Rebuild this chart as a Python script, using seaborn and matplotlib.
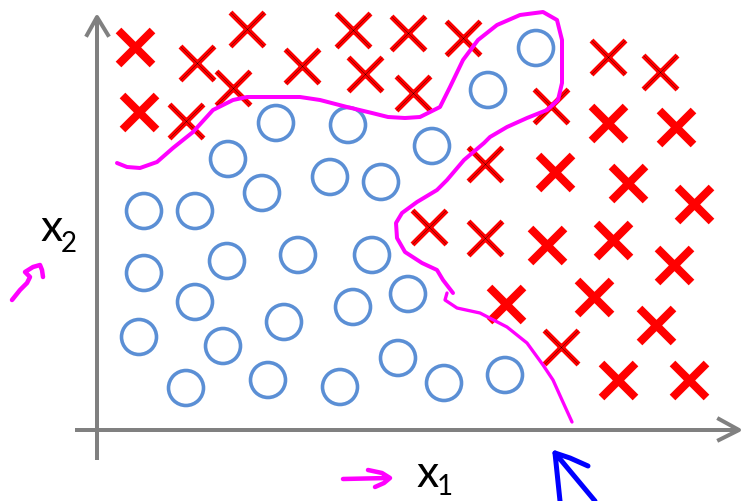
import numpy as np
import pandas as pd
import matplotlib
matplotlib.use("Agg")
import matplotlib.pyplot as plt
import seaborn as sns

# --- data (pixel-space positions) ---
cross_bold_x = [135, 139, 608, 676, 555, 628, 694, 547, 613, 674, 506, 594, 656, 618, 689]
cross_bold_y = [47, 112, 123, 127, 172, 183, 204, 245, 240, 265, 304, 297, 325, 380, 380]

cross_thin_x = [197, 247, 302, 353, 365, 233, 186, 408, 463, 413, 608, 660, 551, 485, 429, 485, 561]
cross_thin_y = [63, 29, 66, 30, 74, 88, 121, 33, 38, 93, 57, 72, 106, 164, 227, 238, 347]

circle_x = [536, 488, 276, 348, 432, 228, 330, 381, 262, 144, 195, 144, 227, 298, 372,
            408, 195, 353, 284, 139, 223, 398, 186, 268, 340, 444, 505]
circle_y = [48, 90, 123, 125, 146, 159, 177, 182, 193, 211, 211, 273, 261, 255, 255,
            294, 302, 307, 322, 337, 346, 358, 388, 380, 387, 383, 375]

# decision boundary, drawn in two strokes
bound1_x = [117, 127, 140, 157, 173, 193, 213, 233, 247, 300, 320, 347, 372, 388, 405, 420,
            440, 450, 463, 478, 497, 520, 543, 557, 562, 562, 558, 547, 527, 507, 490, 484,
            464, 447, 437, 417, 402, 396, 397, 405, 422, 437, 443, 453]
bound1_y = [163, 167, 168, 162, 148, 132, 110, 100, 97, 97, 100, 107, 113, 117, 118, 117,
            107, 87, 60, 40, 25, 15, 12, 20, 40, 83, 100, 110, 118, 127, 137, 143,
            160, 180, 190, 202, 213, 223, 238, 252, 263, 270, 280, 293]
bound2_x = [447, 445, 457, 480, 507, 527, 543, 553, 562, 572]
bound2_y = [293, 300, 308, 313, 327, 343, 365, 380, 400, 422]

# little hand-drawn arrows
pink_up_x = [12, 20, 27, 30, 25, 33, 40, 42, 43]
pink_up_y = [300, 290, 283, 277, 272, 267, 265, 270, 277]
pink_right_x = [343, 388, None, 368, 382, 390, 384, 375]
pink_right_y = [479, 478, None, 470, 473, 478, 483, 487]
blue_shaft_x = [595, 555, 560]
blue_shaft_y = [501, 453, 501]
blue_head_x = [555, 570, 588]
blue_head_y = [453, 458, 466]

# axes geometry
yaxis_x, yaxis_y = [97, 97], [460, 17]
yhead_x, yhead_y = [87, 97, 108], [35, 17, 35]
xaxis_x, xaxis_y = [75, 739], [430, 430]
xhead_x, xhead_y = [719, 739, 719], [419, 430, 440]

W, H = 743, 501
fig = plt.figure(figsize=(W / 100, H / 100), dpi=100)
ax = fig.add_axes([0, 0, 1, 1])
ax.set_xlim(0, W)
ax.set_ylim(H, 0)
ax.axis("off")

grey = "#808080"
px = 72 / 100  # one pixel in points

ax.plot(yaxis_x, yaxis_y, color=grey, lw=4 * px, solid_capstyle="butt")
ax.plot(yhead_x, yhead_y, color=grey, lw=4 * px)
ax.plot(xaxis_x, xaxis_y, color=grey, lw=4 * px, solid_capstyle="butt")
ax.plot(xhead_x, xhead_y, color=grey, lw=4 * px)

circles = pd.DataFrame({"x": circle_x, "y": circle_y})
sns.scatterplot(data=circles, x="x", y="y", ax=ax, marker="o", s=(35 * px) ** 2,
                facecolor="none", edgecolor="#5B8FD5", linewidth=3.6 * px, zorder=3)

bold = pd.DataFrame({"x": cross_bold_x, "y": cross_bold_y})
sns.scatterplot(data=bold, x="x", y="y", ax=ax, marker="x", s=(34 * px) ** 2,
                color="#FF0000", linewidth=8 * px, zorder=4)

thin = pd.DataFrame({"x": cross_thin_x, "y": cross_thin_y})
sns.scatterplot(data=thin, x="x", y="y", ax=ax, marker="x", s=(34 * px) ** 2,
                color="#FF0000", linewidth=5.5 * px, zorder=4)
sns.scatterplot(data=thin, x="x", y="y", ax=ax, marker="x", s=(34 * px) ** 2,
                color="#400000", linewidth=0.3, zorder=5)

magenta = "#FF00FF"
for bx, by, w in [(bound1_x, bound1_y, 4), (bound2_x, bound2_y, 3.3)]:
    ax.plot(bx, by, color=magenta, lw=w * px, solid_capstyle="round",
            solid_joinstyle="round", zorder=6)

ax.plot(pink_up_x, pink_up_y, color=magenta, lw=4.5 * px, solid_capstyle="round", zorder=6)
ax.plot(pink_right_x, pink_right_y, color=magenta, lw=4.5 * px, solid_capstyle="round", zorder=6)
ax.plot(blue_shaft_x, blue_shaft_y, color="#0000FF", lw=5 * px, solid_capstyle="round", zorder=6)
ax.plot(blue_head_x, blue_head_y, color="#0000FF", lw=5 * px, solid_capstyle="round", zorder=6)

font = ["Lato", "DejaVu Sans"]
ax.text(40, 241, "x", fontsize=32, family=font, ha="left", va="baseline")
ax.text(61, 252, "2", fontsize=20, family=font, ha="left", va="baseline")
ax.text(416, 487, "x", fontsize=32, family=font, ha="left", va="baseline")
ax.text(437, 495, "1", fontsize=20, family=font, ha="left", va="baseline")

plt.savefig("out.png", dpi=100)
plt.close()
